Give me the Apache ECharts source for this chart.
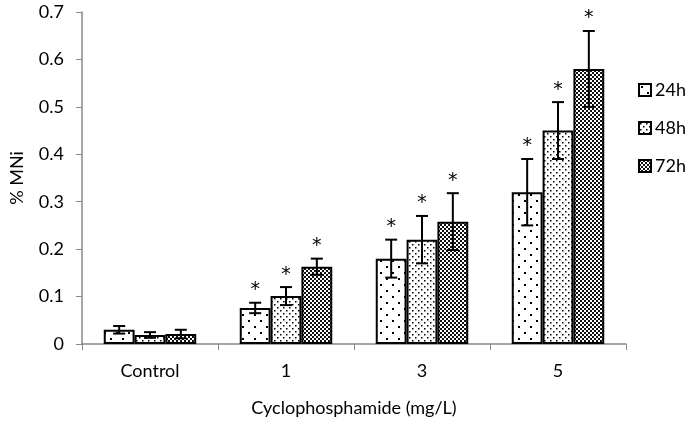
<!DOCTYPE html>
<html><head><meta charset="utf-8">
<script src="https://cdn.jsdelivr.net/npm/echarts@6/dist/echarts.min.js"></script>
<style>html,body{margin:0;padding:0;background:#fff}#c{width:685px;height:422px}</style>
</head><body><div id="c"></div>
<script>
const categories = ['Control', '1', '3', '5'];
const seriesNames = ['24h', '48h', '72h'];
const values24 = [0.030, 0.076, 0.18, 0.32];
const values48 = [0.019, 0.101, 0.22, 0.45];
const values72 = [0.021, 0.163, 0.258, 0.58];
const err24 = [0.008, 0.011, 0.04, 0.07];
const err48 = [0.006, 0.019, 0.05, 0.06];
const err72 = [0.009, 0.017, 0.06, 0.08];
const sig24 = [false, true, true, true];
const sig48 = [false, true, true, true];
const sig72 = [false, true, true, true];
const yTicks = [0, 0.1, 0.2, 0.3, 0.4, 0.5, 0.6, 0.7];

const allValues = [values24, values48, values72];
const allErr = [err24, err48, err72];
const allSig = [sig24, sig48, sig72];
const FONT = 'Lato, Carlito, "Open Sans", sans-serif';

function makePattern(kind) {
  const c = document.createElement('canvas');
  const ctx = c.getContext('2d');
  if (kind === 0) {
    c.width = 12; c.height = 12;
    ctx.fillStyle = '#fff'; ctx.fillRect(0,0,12,12);
    ctx.fillStyle = '#000';
    ctx.fillRect(2,2,2,2); ctx.fillRect(8,8,2,2);
  } else if (kind === 1) {
    c.width = 6; c.height = 6;
    ctx.fillStyle = '#fff'; ctx.fillRect(0,0,6,6);
    ctx.fillStyle = '#000';
    ctx.fillRect(1,1,1.5,1.5); ctx.fillRect(4,4,1.5,1.5);
  } else {
    c.width = 4; c.height = 4;
    ctx.fillStyle = '#fff'; ctx.fillRect(0,0,4,4);
    ctx.fillStyle = '#111';
    ctx.fillRect(0,0,2,2); ctx.fillRect(2,2,2,2);
    ctx.fillRect(1,0,1,1);
  }
  return c;
}

const barGap = 0.32;
const series = [];
seriesNames.forEach((name, i) => {
  series.push({
    name: name,
    type: 'bar',
    data: allValues[i],
    barGap: '0%',
    barCategoryGap: (barGap * 100) + '%',
    itemStyle: {
      color: { image: makePattern(i), repeat: 'repeat' },
      borderColor: '#000',
      borderWidth: 2
    },
    z: 2
  });
});
seriesNames.forEach((name, i) => {
  series.push({
    type: 'custom',
    name: name + '_err',
    data: allValues[i].map((v, k) => [k, v, allErr[i][k], allSig[i][k] ? 1 : 0]),
    renderItem: function (params, api) {
      const k = api.value(0), v = api.value(1), e = api.value(2), s = api.value(3);
      const center = api.coord([k, 0]);
      const catW = api.size([1, 0])[0];
      const barW = catW * (1 - barGap) / 3;
      const x = center[0] + (i - 1) * barW;
      const top = api.coord([k, v + e])[1];
      const bot = api.coord([k, v - e])[1];
      const cap = 6;
      const st = { stroke: '#000', lineWidth: 2 };
      const children = [
        { type: 'line', shape: { x1: x, y1: top, x2: x, y2: bot }, style: st },
        { type: 'line', shape: { x1: x - cap, y1: top, x2: x + cap, y2: top }, style: st },
        { type: 'line', shape: { x1: x - cap, y1: bot, x2: x + cap, y2: bot }, style: st }
      ];
      if (s) {
        children.push({ type: 'text', style: { text: '*', x: x, y: top - 3, fill: '#000', font: '19px "DejaVu Sans", sans-serif', textAlign: 'center', textVerticalAlign: 'bottom' } });
      }
      return { type: 'group', children: children };
    },
    z: 5,
    tooltip: { show: false }
  });
});

const chart = echarts.init(document.getElementById('c'));
chart.setOption({
  animation: false,
  textStyle: { fontFamily: FONT },
  grid: { left: 77, right: 59, top: 12, bottom: 78, containLabel: false },
  legend: {
    data: seriesNames,
    orient: 'vertical',
    left: 633,
    top: 76,
    icon: 'rect',
    itemWidth: 12,
    itemHeight: 12,
    itemGap: 20,
    textStyle: { fontSize: 18, fontFamily: FONT, color: '#000', padding: [0, 0, 0, -1] }
  },
  xAxis: {
    type: 'category',
    data: categories,
    name: 'Cyclophosphamide (mg/L)',
    nameLocation: 'middle',
    nameGap: 55,
    nameTextStyle: { fontSize: 18, fontFamily: FONT, color: '#000' },
    axisLine: { lineStyle: { color: '#888', width: 1.5 } },
    axisTick: { show: true, length: 6, lineStyle: { color: '#888' } },
    axisLabel: { fontSize: 18, fontFamily: FONT, color: '#000', margin: 18 }
  },
  yAxis: {
    type: 'value',
    min: 0, max: 0.7, interval: 0.1,
    name: '% MNi',
    nameLocation: 'middle',
    nameGap: 56,
    nameRotate: 90,
    nameTextStyle: { fontSize: 18, fontFamily: FONT, color: '#000' },
    axisLine: { show: true, lineStyle: { color: '#888', width: 1.5 } },
    axisTick: { show: true, length: 6, lineStyle: { color: '#888' } },
    splitLine: { show: false },
    axisLabel: { fontSize: 18, fontFamily: FONT, color: '#000', margin: 18,
      formatter: function (v) { return yTicks.indexOf(+v.toFixed(1)) >= 0 ? String(+v.toFixed(1)) : ''; } }
  },
  series: series
});
</script></body></html>
